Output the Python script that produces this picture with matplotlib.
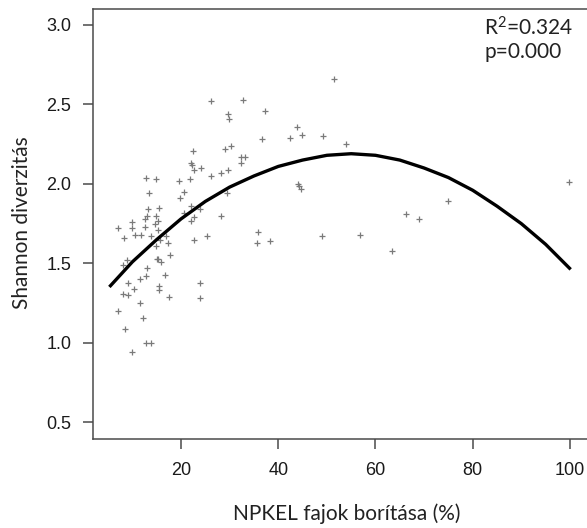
import numpy as np
import matplotlib.pyplot as plt

plt.rcParams["font.family"] = ["Liberation Sans", "DejaVu Sans"]
plt.rcParams["mathtext.fontset"] = "custom"
plt.rcParams["mathtext.rm"] = "Lato"
plt.rcParams["mathtext.default"] = "rm"

# NPKEL cover (%) vs Shannon diversity
cover = [51.4, 26.1, 32.8, 29.6, 29.8, 37.3, 36.6, 43.8, 44.8, 42.4,
         49.3, 53.9, 24.2, 29.1, 30.3, 32.4, 33.1, 32.3, 26.1, 28.2,
         29.6, 44.0, 44.3, 44.6, 29.5, 23.9, 28.2, 25.3, 35.9, 35.7,
         38.4, 49.0, 56.8, 63.3, 23.9, 23.9, 99.9, 75.0, 66.2, 69.0,
         22.5, 22.1, 22.3, 22.7, 12.7, 14.9, 19.5, 21.8, 20.6, 13.4,
         19.7, 20.6, 22.0, 15.5, 13.2, 12.5, 9.9, 7.0, 9.9, 12.5,
         13.1, 14.8, 15.3, 14.6, 15.2, 8.3, 10.5, 11.7, 13.8, 15.7,
         16.9, 14.8, 17.3, 17.8, 15.1, 15.3, 15.9, 8.8, 8.1, 13.0,
         16.7, 12.7, 11.5, 9.0, 10.3, 15.5, 15.5, 8.1, 9.2, 17.6,
         11.6, 7.0, 12.1, 8.4, 12.9, 13.8, 9.9, 22.6, 22.1, 22.7]
shannon = [2.66, 2.52, 2.53, 2.44, 2.41, 2.46, 2.28, 2.36, 2.31, 2.29,
           2.30, 2.25, 2.10, 2.22, 2.24, 2.17, 2.17, 2.13, 2.05, 2.07,
           2.09, 2.00, 1.99, 1.97, 1.94, 1.84, 1.80, 1.67, 1.70, 1.63,
           1.64, 1.67, 1.68, 1.58, 1.38, 1.28, 2.01, 1.89, 1.81, 1.78,
           2.21, 2.13, 2.12, 2.09, 2.04, 2.03, 2.02, 2.03, 1.95, 1.94,
           1.91, 1.82, 1.86, 1.85, 1.84, 1.78, 1.76, 1.72, 1.72, 1.73,
           1.80, 1.80, 1.77, 1.75, 1.71, 1.66, 1.68, 1.68, 1.67, 1.65,
           1.67, 1.61, 1.63, 1.55, 1.53, 1.53, 1.51, 1.52, 1.49, 1.47,
           1.43, 1.42, 1.40, 1.38, 1.34, 1.36, 1.33, 1.31, 1.30, 1.29,
           1.25, 1.20, 1.16, 1.09, 1.00, 1.00, 0.94, 1.65, 1.77, 1.79]

# fitted quadratic curve
fit_x = [5.5, 10, 15, 20, 25, 30, 35, 40, 45, 50,
         55, 60, 65, 70, 75, 80, 85, 90, 95, 99.9]
fit_y = [1.36, 1.51, 1.65, 1.78, 1.89, 1.98, 2.05, 2.11, 2.15, 2.18,
         2.19, 2.18, 2.15, 2.10, 2.04, 1.96, 1.86, 1.75, 1.62, 1.47]

xticks = [20, 40, 60, 80, 100]
yticks = [0.5, 1.0, 1.5, 2.0, 2.5, 3.0]

fig = plt.figure(figsize=(5.87, 5.28), dpi=100)
ax = fig.add_axes([93 / 587, 89 / 528, 1 - 93 / 587, 430 / 528])

ax.plot(cover, shannon, linestyle="none", marker="+", markersize=4,
        markeredgewidth=0.9, color="#7a7a7a")
ax.plot(fit_x, fit_y, color="black", linewidth=2.4)

ax.set_xlim(1.9, 103.5)
ax.set_ylim(0.396, 3.1)
ax.set_xticks(xticks)
ax.set_yticks(yticks)
ax.set_xticklabels([str(t) for t in xticks])
ax.set_yticklabels(["%.1f" % t for t in yticks])

for s in ["left", "top", "bottom"]:
    ax.spines[s].set_color("#4a4a4a")
    ax.spines[s].set_linewidth(1.1)
ax.spines["right"].set_visible(False)
ax.tick_params(axis="both", direction="out", length=7.5, width=1.1,
               color="#4a4a4a", labelcolor="#1a1a1a", labelsize=13)
ax.tick_params(axis="x", pad=9)
ax.tick_params(axis="y", pad=8)

fig.text(346.5 / 587, 1 - 520 / 528, "NPKEL fajok borítása (%)",
         ha="center", va="baseline", fontsize=15, family="Lato",
         color="#222222")
fig.text(28 / 587, 1 - 223 / 528, "Shannon diverzitás", rotation=90,
         rotation_mode="anchor", ha="center", va="baseline", fontsize=15,
         family="Lato", color="#222222")

fig.text(484 / 587, 1 - 35 / 528, "R$^2$=0.324", ha="left", va="baseline",
         fontsize=15, family="Lato", color="#222222")
fig.text(484 / 587, 1 - 58 / 528, "p=0.000", ha="left", va="baseline",
         fontsize=15, family="Lato", color="#222222")

fig.savefig("out.png", dpi=100)
